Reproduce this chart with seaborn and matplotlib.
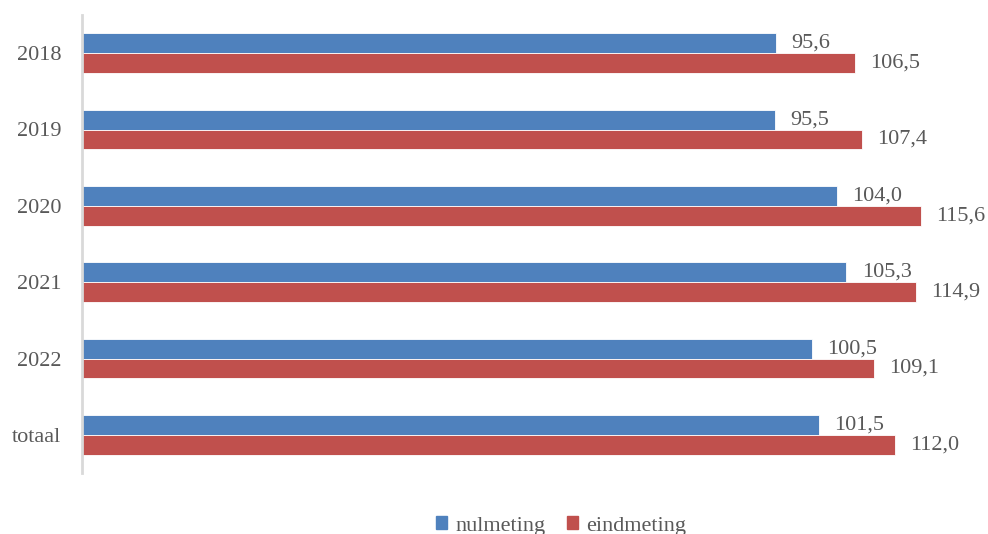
import matplotlib
matplotlib.use("Agg")
import matplotlib.pyplot as plt
import seaborn as sns
import pandas as pd

categories = ["2018", "2019", "2020", "2021", "2022", "totaal"]
nulmeting = [95.6, 95.5, 104.0, 105.3, 100.5, 101.5]
eindmeting = [106.5, 107.4, 115.6, 114.9, 109.1, 112.0]
series_names = ["nulmeting", "eindmeting"]
colors = ["#4F81BD", "#C0504D"]

df = pd.DataFrame({
    "categorie": categories * 2,
    "waarde": nulmeting + eindmeting,
    "meting": [series_names[0]] * len(categories) + [series_names[1]] * len(categories),
})

sns.set_theme(style="white")
plt.rcParams["font.family"] = ["Liberation Serif", "DejaVu Serif"]
text_color = "#595959"

fig = plt.figure(figsize=(9.88, 5.34), dpi=100)
ax = fig.add_axes([82 / 988, 61 / 534, 906 / 988, 458 / 534])

sns.barplot(data=df, y="categorie", x="waarde", hue="meting", order=categories,
            hue_order=series_names, palette=colors, saturation=1, orient="h",
            width=0.52, edgecolor="white", linewidth=0.6, ax=ax, legend=False)

ax.set_xlim(0, 906 / 7.26)
ax.set_ylim(len(categories) - 0.5, -0.5)

for container, vals in zip(ax.containers, [nulmeting, eindmeting]):
    ax.bar_label(container, labels=[f"{v:.1f}".replace(".", ",") for v in vals],
                 padding=11, fontsize=16, color=text_color)

ax.set_xlabel("")
ax.set_ylabel("")
ax.xaxis.set_visible(False)
for side in ["top", "right", "bottom"]:
    ax.spines[side].set_visible(False)
ax.spines["left"].set_color("#D9D9D9")
ax.spines["left"].set_linewidth(2)
ax.tick_params(axis="y", length=0, pad=15, labelsize=16, labelcolor=text_color)

handles = [plt.Rectangle((0, 0), 1, 1, color=c) for c in colors]
fig.legend(handles, series_names, loc="center", bbox_to_anchor=(0.568, 0.015),
           ncol=2, frameon=False, fontsize=16, labelcolor=text_color,
           handlelength=0.5, handleheight=0.5, handletextpad=0.35, columnspacing=1.0)

fig.savefig("out.png", dpi=100)
